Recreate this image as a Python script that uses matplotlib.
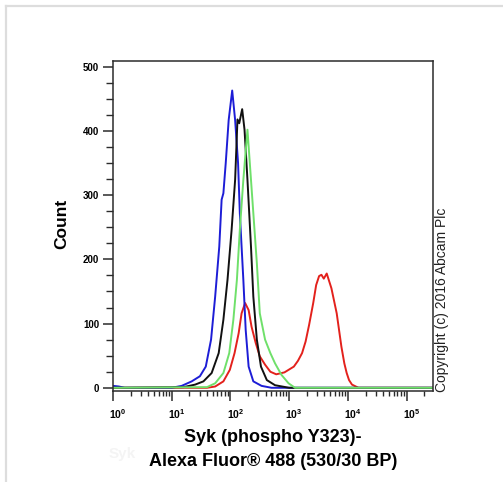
import matplotlib
matplotlib.use("Agg")
import matplotlib.pyplot as plt
import matplotlib.transforms as mtransforms
from matplotlib.lines import Line2D
from matplotlib.ticker import LogLocator, MultipleLocator, NullFormatter
import numpy as np

plt.rcParams['font.family'] = ['Liberation Sans', 'DejaVu Sans']

# histogram traces: log10(intensity) and count
blue_logx = [0.0, 0.1, 0.2, 0.95, 1.0, 1.17, 1.34, 1.48, 1.58, 1.67, 1.74, 1.81, 1.85, 1.88,
             1.92, 1.97, 2.03, 2.08, 2.13, 2.16, 2.22, 2.26, 2.31, 2.39, 2.53, 2.7, 5.45]
blue_cnt = [3, 2, 0, 0, 0, 3, 10, 18, 33, 75, 142, 220, 293, 303,
            350, 417, 463, 417, 350, 272, 168, 90, 33, 10, 3, 0, 0]

black_logx = [0.0, 1.2, 1.4, 1.54, 1.68, 1.8, 1.88, 1.95, 2.02, 2.08, 2.12, 2.15, 2.2,
              2.24, 2.29, 2.35, 2.39, 2.45, 2.52, 2.62, 2.76, 3.0, 5.45]
black_cnt = [0, 1, 5, 10, 23, 54, 106, 168, 246, 324, 418, 412, 434,
             402, 324, 220, 142, 75, 33, 12, 4, 0, 0]

green_logx = [0.0, 1.6, 1.74, 1.88, 1.98, 2.05, 2.11, 2.16, 2.22, 2.29, 2.33, 2.39, 2.45,
              2.5, 2.59, 2.68, 2.76, 2.87, 2.99, 3.1, 5.45]
green_cnt = [0, 1, 7, 23, 54, 106, 168, 246, 324, 402, 350, 272, 194,
             116, 75, 54, 38, 20, 7, 0, 0]

red_logx = [0.0, 1.6, 1.74, 1.88, 1.99, 2.07, 2.14, 2.19, 2.25, 2.31, 2.36, 2.43, 2.5,
            2.59, 2.68, 2.78, 2.92, 3.08, 3.15, 3.22, 3.28, 3.34, 3.41, 3.46, 3.51, 3.55,
            3.59, 3.64, 3.72, 3.81, 3.89, 3.94, 3.98, 4.02, 4.07, 4.18, 5.45]
red_cnt = [0, 0, 2, 10, 28, 54, 85, 116, 132, 121, 95, 70, 49,
           36, 25, 21, 24, 33, 42, 54, 72, 98, 132, 160, 174, 176,
           170, 178, 155, 116, 64, 38, 23, 12, 5, 0, 0]

fig = plt.figure(figsize=(5.03, 4.82), dpi=100)
ax = fig.add_axes([113/503, 1 - 391/482, 320/503, 330/482])

dark = '#2b2b2b'
lw = 1.4
ax.plot(10 ** np.array(red_logx), red_cnt, color='#e3211c', lw=lw)
ax.plot(10 ** np.array(blue_logx), blue_cnt, color='#1d1dd6', lw=lw)
ax.plot(10 ** np.array(black_logx), black_cnt, color='#111111', lw=lw)
ax.plot(10 ** np.array(green_logx), green_cnt, color='#6fe06a', lw=lw)

ax.set_xscale('log')
ax.set_xlim(1, 10 ** 5.45)
ax.set_ylim(-5, 509)

ax.yaxis.set_major_locator(MultipleLocator(100))
ax.yaxis.set_minor_locator(MultipleLocator(25))
ax.xaxis.set_major_locator(LogLocator(base=10, numticks=10))
ax.xaxis.set_minor_locator(LogLocator(base=10, subs=np.arange(2, 10), numticks=20))
ax.xaxis.set_minor_formatter(NullFormatter())

for s in ax.spines.values():
    s.set_color(dark)
    s.set_linewidth(1.1)

ax.tick_params(axis='y', which='major', direction='out', length=7, width=1.1, color=dark,
               labelsize=7, pad=3)
ax.tick_params(axis='y', which='minor', direction='out', length=5, width=1.0, color=dark)
ax.tick_params(axis='x', which='major', direction='out', length=7, width=1.1, color=dark,
               labelsize=7.5, pad=5)
ax.tick_params(axis='x', which='minor', direction='out', length=3.5, width=1.0, color=dark)

for lab in ax.get_yticklabels():
    lab.set_fontweight('bold')
fig.canvas.draw()
for i, lab in enumerate(ax.get_xticklabels()):
    lab.set_fontweight('bold')
    dx = 12 if i == 0 else 5
    lab.set_transform(lab.get_transform() + mtransforms.ScaledTranslation(dx / 100, 0, fig.dpi_scale_trans))

fig.text(62/503, 1 - 224/482, 'Count', rotation=90, ha='center', va='center',
         fontsize=12.5, fontweight='bold')
fig.text(273/503, 1 - 437/482, 'Syk (phospho Y323)-', ha='center', va='center',
         fontsize=13, fontweight='bold')
fig.text(273/503, 1 - 461/482, 'Alexa Fluor® 488 (530/30 BP)', ha='center', va='center',
         fontsize=13, fontweight='bold')
fig.text(122/503, 1 - 454/482, 'Syk', ha='center', va='center', fontsize=11,
         fontweight='bold', color='#f4f4f4')
fig.text(442/503, 1 - 392/482, 'Copyright (c) 2016 Abcam Plc', rotation=90,
         ha='center', va='bottom', fontsize=10, color='#222222')

# light frame around the picture
fig.add_artist(Line2D([6/503, 1], [1 - 6/482, 1 - 6/482], color='#dddddd', lw=1.6,
                      transform=fig.transFigure))
fig.add_artist(Line2D([6/503, 6/503], [0, 1 - 6/482], color='#dddddd', lw=1.6,
                      transform=fig.transFigure))

fig.savefig('out.png', dpi=100)
